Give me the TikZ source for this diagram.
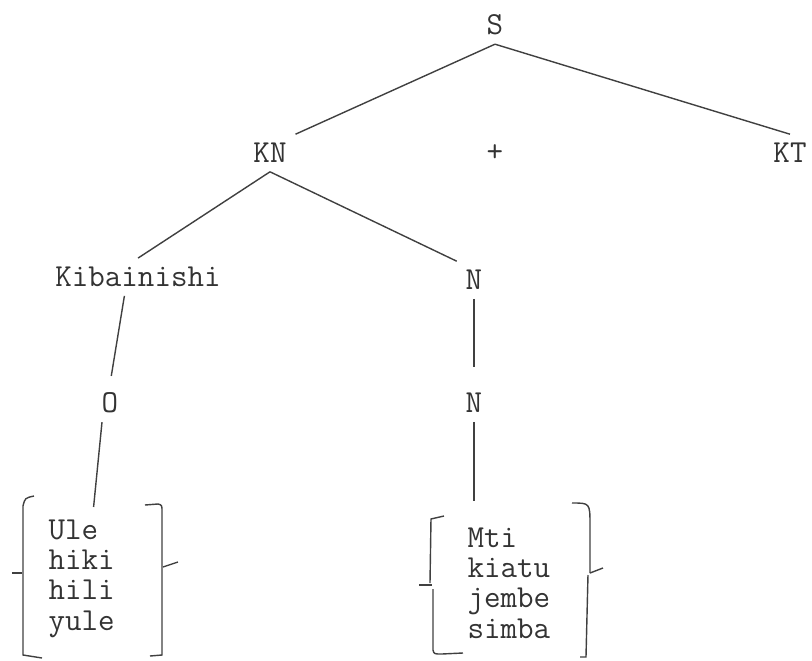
\documentclass[tikz,border=0pt]{standalone}
\usepackage{fontspec}
\usepackage{tikz}
\usetikzlibrary{positioning, calc}
\tikzstyle{cat} = [font=\ttfamily\fontsize{11.4}{12}\selectfont, text=black!80, inner sep=3pt]
\tikzstyle{words} = [cat, align=left, inner sep=0pt, anchor=north west, font=\ttfamily\fontsize{11.4}{10.8}\selectfont]
\tikzstyle{branch} = [draw=black!75, line width=0.5pt]
\tikzstyle{bracket} = [draw=black!75, line width=0.5pt]

\begin{document}
\begin{tikzpicture}[x=0.0125cm, y=-0.0125cm]
\useasboundingbox (0,0) rectangle (812,661);

\node (s) [cat] at (495,25) {S};
\node (kn) [cat] at (270,153) {KN};
\node (plus) [cat] at (495,153) {+};
\node (kt) [cat] at (790,153) {KT};
\node (kib) [cat] at (138,277) {Kibainishi};
\node (n1) [cat] at (474,280) {N};
\node (o) [cat] at (110,403) {O};
\node (n2) [cat] at (474,403) {N};
\node (dets) [words] at (48,519) {Ule\\hiki\\hili\\yule};
\node (nouns) [words] at (467,527) {Mti\\kiatu\\jembe\\simba};

\draw [branch] (s.south) -- (kn.north east);
\draw [branch] (s.south) -- (kt.north);
\draw [branch] (kn.south) -- (kib.north);
\draw [branch] (kn.south) -- (n1.north west);
\draw [branch, shorten >=0.1cm] ([xshift=-0.17cm]kib.south) -- (o.north);
\draw [branch, shorten >=0.22cm] (n1.south) -- (n2.north);
\draw [branch] ([xshift=-0.1cm]o.south) -- ([xshift=0.15cm, yshift=0.15cm]dets.north);
\draw [branch] (n2.south) -- ([yshift=0.33cm]nouns.north -| n2.south);

% brackets round the word lists
\draw [bracket] (34,496) .. controls (25,498) .. (23,506) -- (23,655) -- (42,658);
\draw [bracket] (12,573) -- (22,573);
\draw [bracket] (145,505) -- (158,504) .. controls (162,505) .. (162,512) -- (162,655) -- (150,656);
\draw [bracket] (163,567) -- (178,562);
\draw [bracket] (444,516) -- (431,519) -- (430,583);
\draw [bracket] (419,585) -- (432,585);
\draw [bracket] (433,589) -- (433,650) .. controls (434,654) .. (442,654) -- (463,653);
\draw [bracket] (572,503) .. controls (590,503) .. (590,525) -- (590,573);
\draw [bracket] (590,573) -- (603,568);
\draw [bracket] (588,575) -- (586,657) -- (580,657);

\end{tikzpicture}
\end{document}
